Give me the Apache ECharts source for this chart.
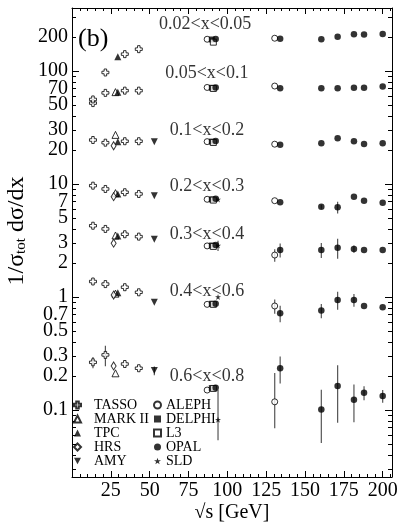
<!DOCTYPE html>
<html>
<head>
<meta charset="utf-8">
<script src="https://cdn.jsdelivr.net/npm/echarts@6/dist/echarts.min.js"></script>
<style>
  html, body { margin: 0; background: #fff; }
  #chart { width: 399px; height: 525px; }
</style>
</head>
<body>
<div id="chart"></div>
<script>
const yLabelValues = [0.1, 0.2, 0.3, 0.5, 0.7, 1, 2, 3, 5, 7, 10, 20, 30, 50, 70, 100, 200];
const xLabelValues = [25, 50, 75, 100, 125, 150, 175, 200];
const binLabels = ["0.02<x<0.05", "0.05<x<0.1", "0.1<x<0.2", "0.2<x<0.3", "0.3<x<0.4", "0.4<x<0.6", "0.6<x<0.8"];
const binLabelAnchors = [[56, 257], [60, 96], [63, 30], [63, 9.6], [63, 3.61], [63, 1.13], [63, 0.2]];

// points: [sqrt(s), 1/sigma dsigma/dx, err down, err up]
const tasso = [
  [13.5, 52], [21.5, 97], [34, 141], [43, 156],
  [13.5, 56], [21.5, 64], [34, 67], [43, 67],
  [13.5, 24.5], [21.5, 23.2], [34, 23.9], [43, 23.9],
  [13.5, 9.66], [21.5, 9.03], [34, 8.45], [43, 8.16],
  [13.5, 4.27], [21.5, 4.0], [34, 3.59], [43, 3.42],
  [13.5, 1.37], [21.5, 1.3], [34, 1.22], [43, 1.1],
  [13.5, 0.264, 0.03], [21.5, 0.307, 0.063], [34, 0.255], [43, 0.234],
];
const markII = [[28, 65], [28, 27.2], [28, 8.3], [28, 3.5], [28, 1.07], [28, 0.211]];
const tpc = [[29.5, 134], [29.5, 65], [29.5, 23.7], [29.5, 8.16], [29.5, 3.47], [29.5, 1.09]];
const hrs = [[26.8, 21.8], [26.8, 7.72], [26.8, 2.99], [26.8, 1.04], [26.8, 0.245]];
const amy = [[53, 23.7], [53, 7.88], [53, 3.24], [53, 0.898], [53, 0.223, 0.02]];
const aleph = [
  [87, 191], [87, 71.5], [87, 23.7], [87, 7.32], [87, 2.83], [87, 0.86], [87, 0.15],
  [130.5, 195], [130.5, 73.6], [130.5, 22.5], [130.5, 7.11], [130.5, 2.35, 0.3], [130.5, 0.832, 0.12], [130.5, 0.118, 0.049, 0.094],
];
const delphi = [[90, 190], [90, 71], [90, 23.7], [90, 7.3], [90, 2.85], [90, 0.87], [90, 0.156]];
const l3 = [[91, 180], [91, 70], [91, 23.3], [91, 7.2], [91, 2.8], [91, 0.86], [91, 0.155]];
const opal = [
  [92.5, 192], [92.5, 71.5], [92.5, 24], [92.5, 7.4], [92.5, 2.88], [92.5, 0.87], [92.5, 0.157],
  [134, 193], [134, 70.3], [134, 22.2], [134, 6.89], [134, 2.61, 0.37], [134, 0.717, 0.12], [134, 0.234, 0.063],
  [160.5, 191], [160.5, 70.3], [160.5, 22.9], [160.5, 6.3, 0.25], [160.5, 2.61, 0.4], [160.5, 0.757, 0.11], [160.5, 0.101, 0.05],
  [171, 201], [171, 70.3], [171, 25.4], [171, 6.22, 0.75], [171, 2.73, 0.55], [171, 0.94, 0.17], [171, 0.163, 0.086],
  [181.5, 211], [181.5, 71.2], [181.5, 23.9], [181.5, 7.72], [181.5, 2.66, 0.2], [181.5, 0.94, 0.12], [181.5, 0.123, 0.045],
  [188, 210], [188, 71], [188, 22.6], [188, 7.11], [188, 2.61], [188, 0.832], [188, 0.142, 0.02],
  [200, 212], [200, 72.9], [200, 22.9], [200, 6.83], [200, 2.61], [200, 0.811], [200, 0.133, 0.017],
];
const sld = [[94, 7.3], [94, 2.85, 0.3], [94, 1.0], [94, 0.082, 0.028, 0.068]];

const FONT = "Liberation Serif";
const lg = Math.log10;
const yMin = lg(0.0255);
const yMax = lg(361);
const xMax = 206;

const yMajor = [];
const yMinor = [];
for (let d = -2; d <= 2; d++) {
  for (let m = 1; m <= 9; m++) {
    const v = lg(m * Math.pow(10, d));
    if (v < yMin || v > yMax) continue;
    (m === 1 ? yMajor : yMinor).push(v);
  }
}
const xMajor = [];
const xMinor = [];
for (let v = 0; v <= xMax; v += 5) (v % 25 === 0 ? xMajor : xMinor).push(v);

const openStyle = { color: "#fff", borderColor: "#000", borderWidth: 1 };
const solidStyle = { color: "#000" };
const crossPath = "path://M3.2,0H6.8V3.2H10V6.8H6.8V10H3.2V6.8H0V3.2H3.2Z";
const downTriPath = "path://M0,0L10,0L5,9Z";
const starPath = "path://M5,0L6.2,3.6L10,3.6L6.9,5.8L8.1,9.5L5,7.2L1.9,9.5L3.1,5.8L0,3.6L3.8,3.6Z";

const experiments = [
  { name: "TASSO", pts: tasso, symbol: crossPath, size: 7, style: openStyle },
  { name: "MARK II", pts: markII, symbol: "triangle", size: 7, style: openStyle },
  { name: "TPC", pts: tpc, symbol: "triangle", size: 7, style: solidStyle },
  { name: "HRS", pts: hrs, symbol: "diamond", size: [5, 8], style: openStyle },
  { name: "AMY", pts: amy, symbol: downTriPath, size: 7, style: solidStyle },
  { name: "ALEPH", pts: aleph, symbol: "circle", size: 6, style: openStyle },
  { name: "DELPHI", pts: delphi, symbol: "rect", size: 6, style: solidStyle },
  { name: "L3", pts: l3, symbol: "rect", size: 6, style: openStyle },
  { name: "OPAL", pts: opal, symbol: "circle", size: 6.5, style: solidStyle },
  { name: "SLD", pts: sld, symbol: starPath, size: 6, style: solidStyle },
];

const errData = [];
experiments.forEach((e) => {
  e.pts.forEach((p) => {
    if (p[2] == null) return;
    const up = p[3] != null ? p[3] : p[2];
    errData.push([p[0], lg(p[1] - p[2]), lg(p[1] + up)]);
  });
});

const chart = echarts.init(document.getElementById("chart"), null, { renderer: "canvas" });

const hiddenAxis = { type: "value", axisLine: { show: false, onZero: false }, axisLabel: { show: false }, splitLine: { show: false } };
const line = { show: true, onZero: false, lineStyle: { color: "#000", width: 1 } };
const tick = (len, values) => ({ show: true, inside: true, length: len, customValues: values, lineStyle: { color: "#000", width: 1 } });
const legendBase = {
  orient: "vertical", top: 398, padding: 0, itemWidth: 7, itemHeight: 7, itemGap: 0, selectedMode: false,
};

const option = {
  animation: false,
  backgroundColor: "#fff",
  grid: { left: 72, right: 7, top: 8, bottom: 48, outerBoundsMode: "none" },
  legend: [
    {
      ...legendBase, left: 73, data: ["TASSO", "MARK II", "TPC", "HRS", "AMY"],
      textStyle: { fontFamily: FONT, fontSize: 14, color: "#000", lineHeight: 14, padding: [0, 0, 0, 8] },
    },
    {
      ...legendBase, left: 153, data: ["ALEPH", "DELPHI", "L3", "OPAL", "SLD"],
      textStyle: { fontFamily: FONT, fontSize: 14, color: "#000", lineHeight: 14, padding: [0, 0, 0, 0] },
    },
  ],
  xAxis: [
    {
      type: "value", min: 0, max: xMax, position: "bottom",
      axisLine: line, axisTick: tick(6, xMajor), splitLine: { show: false },
      axisLabel: { customValues: xLabelValues, margin: 4, color: "#000", fontSize: 20, fontFamily: FONT },
      name: "√s [GeV]", nameLocation: "middle", nameGap: 26, nameMoveOverlap: false,
      nameTextStyle: { color: "#000", fontSize: 20, fontFamily: FONT },
    },
    { ...hiddenAxis, min: 0, max: xMax, position: "bottom", axisTick: tick(3, xMinor) },
    { ...hiddenAxis, min: 0, max: xMax, position: "top", axisLine: line, axisTick: tick(6, xMajor) },
    { ...hiddenAxis, min: 0, max: xMax, position: "top", axisTick: tick(3, xMinor) },
  ],
  yAxis: [
    {
      type: "value", min: yMin, max: yMax, position: "left",
      axisLine: line, axisTick: tick(7, yMajor), splitLine: { show: false },
      axisLabel: {
        customValues: yLabelValues.map(lg), margin: 4, color: "#000", fontSize: 20, fontFamily: FONT,
        formatter: (v) => String(+Math.pow(10, v).toPrecision(1)),
      },
      name: "{n|1/σ}{s|tot}{n| dσ/dx}", nameLocation: "middle", nameRotate: 90, nameGap: 43, nameMoveOverlap: false,
      nameTextStyle: {
        color: "#000", padding: [0, 0, 0, 23],
        rich: {
          n: { fontSize: 24, fontFamily: FONT, color: "#000" },
          s: { fontSize: 15, fontFamily: FONT, color: "#000", padding: [10, 0, 0, 0] },
        },
      },
    },
    { ...hiddenAxis, min: yMin, max: yMax, position: "left", axisTick: tick(4, yMinor) },
    { ...hiddenAxis, min: yMin, max: yMax, position: "right", axisLine: line, axisTick: tick(7, yMajor) },
    { ...hiddenAxis, min: yMin, max: yMax, position: "right", axisTick: tick(4, yMinor) },
  ],
  graphic: [
    { type: "text", left: 78, top: 26, style: { text: "(b)", font: `26px "${FONT}"`, fill: "#000" } },
  ],
  series: [
    {
      type: "custom", name: "errors", z: 1, silent: true, data: errData,
      renderItem: (params, api) => {
        const a = api.coord([api.value(0), api.value(1)]);
        const b = api.coord([api.value(0), api.value(2)]);
        return { type: "line", shape: { x1: a[0], y1: a[1], x2: b[0], y2: b[1] }, style: { stroke: "#555", lineWidth: 1.2 } };
      },
    },
    ...experiments.map((e) => ({
      type: "scatter", name: e.name, z: 3, symbol: e.symbol, symbolSize: e.size,
      itemStyle: e.style, data: e.pts.map((p) => [p[0], lg(p[1])]),
    })),
    {
      type: "scatter", name: "bins", z: 4, silent: true, symbolSize: 0,
      data: binLabelAnchors.map((p) => [p[0], lg(p[1])]),
      label: {
        show: true, position: "right", distance: 0, color: "#000", fontSize: 18, fontFamily: FONT,
        formatter: (p) => binLabels[p.dataIndex],
      },
    },
  ],
};

chart.setOption(option);
</script>
</body>
</html>
